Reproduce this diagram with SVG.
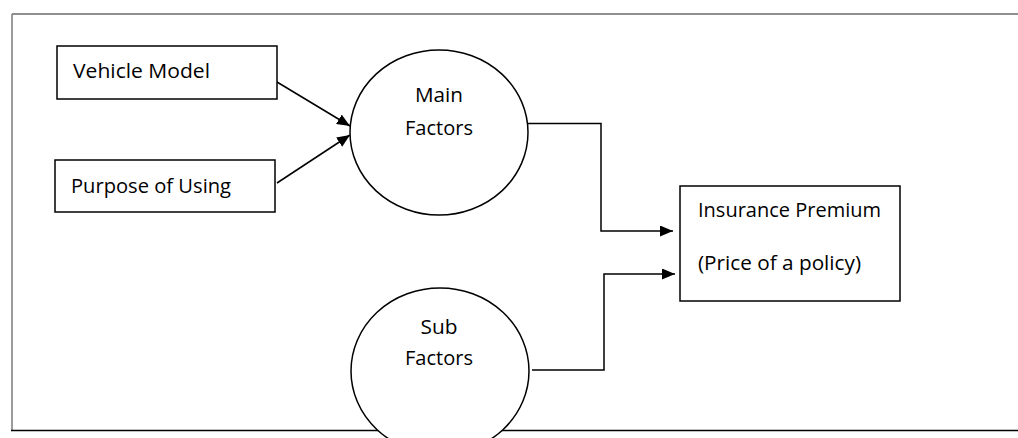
<svg xmlns="http://www.w3.org/2000/svg" width="1018" height="438" viewBox="0 0 1018 438">
<defs>
<style>
.box{fill:#fff;stroke:#000;stroke-width:1.5}
.ell{fill:#fff;stroke:#000;stroke-width:1.5}
.con{fill:none;stroke:#000;stroke-width:1.5}
.t{font-family:"Open Sans",Lato,"Liberation Sans",sans-serif;font-size:19.5px;fill:#000}
.c{text-anchor:middle}
</style>
<marker id="ah" markerWidth="13" markerHeight="11" refX="13" refY="5.5" orient="auto" markerUnits="userSpaceOnUse">
<path d="M0,0 L13,5.5 L0,11 Z" fill="#000"/>
</marker>
</defs>
<rect width="1018" height="438" fill="#fff"/>
<g id="frame">
<line x1="12" y1="14" x2="1018" y2="14" stroke="#6a6a6a" stroke-width="1.5"/>
<line x1="12" y1="14" x2="12" y2="430" stroke="#7a7a7a" stroke-width="1.5"/>
<line x1="11" y1="430.5" x2="1018" y2="430.5" stroke="#000" stroke-width="1.5"/>
</g>
<g id="connectors">
<line class="con" x1="277" y1="82" x2="350" y2="126" marker-end="url(#ah)"/>
<line class="con" x1="277" y1="183" x2="350" y2="135" marker-end="url(#ah)"/>
<polyline class="con" points="528,123.5 601,123.5 601,231 673,231" marker-end="url(#ah)"/>
<polyline class="con" points="532,370 604,370 604,274 675,274" marker-end="url(#ah)"/>
</g>
<g id="vehicle-model">
<rect class="box" x="57" y="46" width="220" height="53"/>
<text class="t" x="73" y="77.5" textLength="137" lengthAdjust="spacingAndGlyphs">Vehicle Model</text>
</g>
<g id="purpose-of-using">
<rect class="box" x="55" y="160" width="220" height="52"/>
<text class="t" x="71" y="193" textLength="160" lengthAdjust="spacingAndGlyphs">Purpose of Using</text>
</g>
<g id="main-factors">
<ellipse class="ell" cx="439" cy="132.5" rx="89" ry="82.5"/>
<text class="t c" x="439" y="102" textLength="48" lengthAdjust="spacingAndGlyphs">Main</text>
<text class="t c" x="439" y="135" textLength="68" lengthAdjust="spacingAndGlyphs">Factors</text>
</g>
<g id="insurance-premium">
<rect class="box" x="680" y="186" width="220" height="115"/>
<text class="t" x="698" y="217" textLength="183" lengthAdjust="spacingAndGlyphs">Insurance Premium</text>
<text class="t" x="698" y="270" textLength="163" lengthAdjust="spacingAndGlyphs">(Price of a policy)</text>
</g>
<g id="sub-factors">
<ellipse class="ell" cx="440" cy="371" rx="89" ry="83"/>
<text class="t c" x="439" y="333.5" textLength="37" lengthAdjust="spacingAndGlyphs">Sub</text>
<text class="t c" x="439" y="365" textLength="68" lengthAdjust="spacingAndGlyphs">Factors</text>
</g>
</svg>
